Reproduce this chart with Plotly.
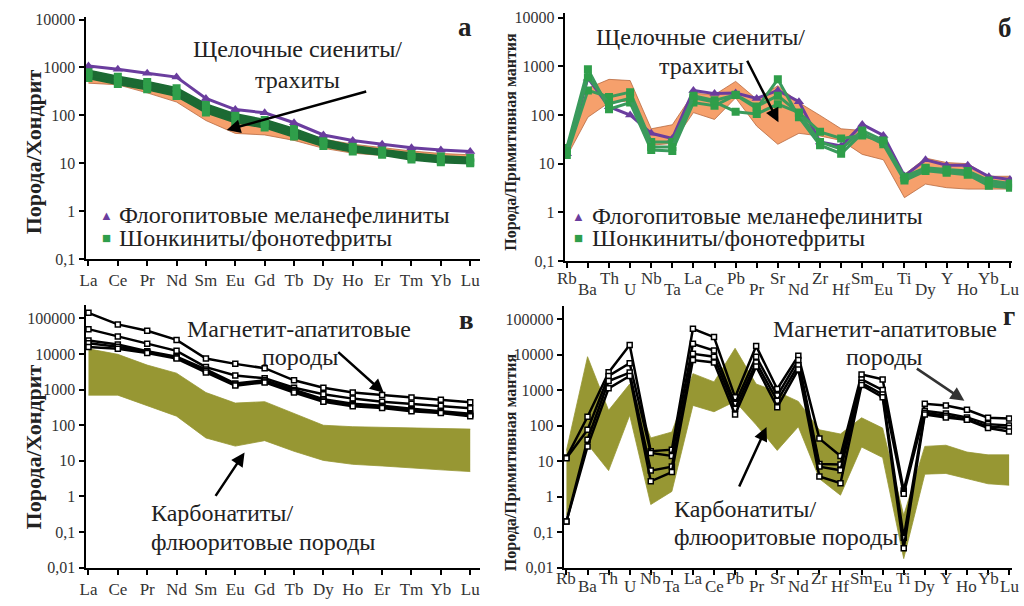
import plotly.graph_objects as go

W, H = 1024, 606

REE = ["La", "Ce", "Pr", "Nd", "Sm", "Eu", "Gd", "Tb", "Dy", "Ho", "Er", "Tm", "Yb", "Lu"]
SPIDER = ["Rb", "Ba", "Th", "U", "Nb", "Ta", "La", "Ce", "Pb", "Pr", "Sr", "Nd",
          "Zr", "Hf", "Sm", "Eu", "Ti", "Dy", "Y", "Ho", "Yb", "Lu"]

# ---------- panel а (REE, chondrite) ----------
a_phlog = [1070, 920, 760, 630, 225, 132, 113, 70, 39, 30, 25, 21, 19, 17.6]
a_shonk_hi = [860, 640, 500, 370, 170, 105, 80, 52, 31, 23, 19, 16, 14, 13]
a_shonk_mid = [690, 515, 405, 300, 139, 87, 66, 42, 26, 19.6, 16.2, 13.2, 11.3, 10.6]
a_shonk_lo = [600, 450, 350, 255, 115, 72, 56, 36, 23, 17.5, 15, 12, 10.5, 10]
a_syen_hi = [820, 600, 480, 340, 160, 98, 82, 52, 32, 25, 21, 18, 16, 15]
a_syen_lo = [470, 435, 295, 190, 78, 42, 39, 30, 20.5, 16.2, 14.5, 12.8, 12, 11.3]

# ---------- panel б (spider, primitive mantle) ----------
b_phlog = [16, 570, 148, 100, 42, 33, 320, 275, 282, 218, 320, 188, 28, 23, 64, 38,
           5.6, 12, 9.3, 9.3, 5.4, 4.7]
b_shonk1 = [21, 870, 132, 180, 19, 18.3, 180, 155, 257, 136, 540, 90, 24, 16, 42, 25,
            4.5, 7.1, 6.5, 5.9, 3.5, 3.2]
b_shonk2 = [15, 320, 235, 295, 28, 28, 225, 185, 117, 105, 167, 112, 45, 33, 38, 28,
            5.4, 8.2, 7.6, 7.1, 4.5, 3.9]
b_shonk3 = [18, 600, 170, 220, 22, 22, 250, 200, 260, 150, 250, 110, 28, 20, 48, 30,
            5.0, 8.0, 7.0, 6.5, 4.0, 3.5]
b_syen_hi = [25, 355, 540, 510, 52, 63, 280, 260, 490, 210, 400, 180, 98, 52, 48, 28,
             6, 13, 10.5, 10, 5.5, 5.5]
b_syen_lo = [14, 90, 180, 195, 24, 26, 112, 81, 225, 59, 25, 42, 37, 30, 15.5, 12,
             2.0, 3.8, 3.2, 3.0, 3.0, 3.0]

# ---------- panel в (REE, chondrite) ----------
v_mag1 = [144000, 68000, 45000, 25000, 7500, 5300, 4000, 1830, 1130, 830, 710, 600, 520, 440]
v_mag2 = [50000, 31000, 19500, 12300, 4300, 2500, 2100, 1130, 740, 560, 460, 400, 355, 300]
v_mag3 = [24000, 18500, 12000, 8400, 3700, 1480, 1830, 980, 540, 400, 355, 290, 248, 210]
v_mag4 = [20000, 16000, 11500, 8000, 3400, 1400, 1700, 900, 500, 370, 330, 270, 235, 195]
v_mag5 = [15700, 14100, 10700, 7500, 3050, 1300, 1600, 830, 460, 340, 306, 248, 222, 180]
v_carb_hi = [14000, 9800, 4900, 2900, 830, 420, 460, 210, 100, 91, 87, 82, 78, 78]
v_carb_lo = [700, 700, 355, 180, 44, 26, 37, 18.6, 10.3, 8, 7.2, 6.5, 5.6, 5]

# ---------- panel г (spider, primitive mantle) ----------
g_mag1 = [12.6, 178, 3150, 18500, 19, 21, 53000, 31000, 630, 17300, 1070, 9200, 43, 14,
          2750, 2000, 1.5, 410, 370, 280, 166, 158]
g_mag2 = [12, 76, 2500, 5700, 17, 14, 20000, 13000, 410, 8700, 700, 7000, 8.3, 8,
          2000, 1000, 1.2, 260, 220, 170, 110, 100]
g_mag3 = [0.2, 40, 1800, 3100, 5.4, 7, 10500, 8700, 300, 6000, 500, 5000, 7, 5.5,
          1600, 750, 0.07, 230, 190, 150, 95, 85]
g_mag4 = [0.2, 26, 1120, 2500, 2.7, 4.9, 7000, 6000, 205, 4600, 330, 3800, 3.7, 2.4,
          1380, 630, 0.035, 205, 170, 145, 85, 68]
g_carb_hi = [20, 8700, 270, 1480, 45, 66, 2900, 1700, 15000, 1480, 900, 480, 76, 58,
             166, 85, 0.3, 26, 28, 18, 15, 15]
g_carb_lo = [0.3, 30, 5.4, 195, 0.6, 1.4, 370, 245, 480, 105, 20, 93, 3.2, 1.1,
             25, 12.6, 0.018, 4.3, 4.5, 3.2, 2.3, 2.1]

TICK_A = [0.1, 1, 10, 100, 1000, 10000]
TICK_A_TXT = ["0,1", "1", "10", "100", "1000", "10000"]
TICK_V = [0.01, 0.1, 1, 10, 100, 1000, 10000, 100000]
TICK_V_TXT = ["0,01", "0,1", "1", "10", "100", "1000", "10000", "100000"]

PURPLE = "#6a3d9e"
GREEN_M = "#2f9e4a"
GREEN_D = "#1c6a33"
GREEN_L = "#3a9a5c"
ORANGE = "#f6a06c"
ORANGE_E = "#b86a40"
OLIVE = "#979733"
FONT = "Liberation Serif"

fig = go.Figure()


def band(x, lo, hi, color, edge, xa, ya):
    fig.add_trace(go.Scatter(x=x, y=lo, mode="lines", line=dict(color=edge, width=0.8),
                             xaxis=xa, yaxis=ya, showlegend=False, hoverinfo="skip"))
    fig.add_trace(go.Scatter(x=x, y=hi, mode="lines", line=dict(color=edge, width=0.8),
                             fill="tonexty", fillcolor=color,
                             xaxis=xa, yaxis=ya, showlegend=False, hoverinfo="skip"))


def line(x, y, xa, ya, color, width, symbol, msize, mcolor, mline=None):
    fig.add_trace(go.Scatter(
        x=x, y=y, mode="lines+markers", xaxis=xa, yaxis=ya, showlegend=False,
        line=dict(color=color, width=width),
        marker=dict(symbol=symbol, size=msize, color=mcolor,
                    line=dict(color=mline or mcolor, width=1.5 if mline else 0))))


# panel а
band(REE, a_syen_lo, a_syen_hi, ORANGE, ORANGE_E, "x", "y")
band(REE, a_shonk_lo, a_shonk_hi, GREEN_D, GREEN_D, "x", "y")
for s in (a_shonk_hi, a_shonk_mid, a_shonk_lo):
    line(REE, s, "x", "y", GREEN_D, 2.5, "square", 8, GREEN_M)
line(REE, a_phlog, "x", "y", PURPLE, 3, "triangle-up", 9, PURPLE)

# panel б
band(SPIDER, b_syen_lo, b_syen_hi, ORANGE, ORANGE_E, "x2", "y2")
line(SPIDER, b_phlog, "x2", "y2", PURPLE, 3, "triangle-up", 9, PURPLE)
for s in (b_shonk1, b_shonk2, b_shonk3):
    line(SPIDER, s, "x2", "y2", GREEN_L, 3, "square", 8, GREEN_M)

# panel в
band(REE, v_carb_lo, v_carb_hi, OLIVE, OLIVE, "x3", "y3")
for s in (v_mag1, v_mag2, v_mag3, v_mag4, v_mag5):
    line(REE, s, "x3", "y3", "black", 2.5, "square", 5, "white", "black")

# panel г
band(SPIDER, g_carb_lo, g_carb_hi, OLIVE, OLIVE, "x4", "y4")
for s in (g_mag1, g_mag2, g_mag3, g_mag4):
    line(SPIDER, s, "x4", "y4", "black", 2.5, "square", 5, "white", "black")


def px_x(x):
    return x / W


def px_y(y):
    return 1 - y / H


axis_common = dict(showline=True, linecolor="black", linewidth=2, ticks="outside",
                   ticklen=5, tickwidth=1.5, tickcolor="black", showgrid=False,
                   zeroline=False, mirror=False)
XTF = dict(size=17, family=FONT, color="#333333")
YTF = dict(size=16, family=FONT, color="#333333")

fig.update_layout(
    width=W, height=H, margin=dict(l=0, r=0, t=0, b=0),
    paper_bgcolor="white", plot_bgcolor="white",
    font=dict(family=FONT, color="#222222"),
    showlegend=False,
    xaxis=dict(axis_common, domain=[px_x(80), px_x(477)], anchor="y",
               type="category", range=[-0.1, 13.34], tickfont=XTF),
    yaxis=dict(axis_common, domain=[px_y(260), px_y(12)], anchor="x",
               type="log", range=[-1, 4.06], tickvals=TICK_A, ticktext=TICK_A_TXT,
               tickfont=YTF),
    xaxis2=dict(axis_common, domain=[px_x(562), px_x(1012)], anchor="y2",
                type="category", range=[-0.1, 21.1], showticklabels=False),
    yaxis2=dict(axis_common, domain=[px_y(262), px_y(8)], anchor="x2",
                type="log", range=[-1, 4.1], tickvals=TICK_A, ticktext=TICK_A_TXT,
                tickfont=YTF),
    xaxis3=dict(axis_common, domain=[px_x(80), px_x(477)], anchor="y3",
                type="category", range=[-0.1, 13.34], tickfont=XTF),
    yaxis3=dict(axis_common, domain=[px_y(576), px_y(307)], anchor="x3",
                type="log", range=[-2, 5.38], tickvals=TICK_V, ticktext=TICK_V_TXT,
                tickfont=YTF),
    xaxis4=dict(axis_common, domain=[px_x(561), px_x(1012)], anchor="y4",
                type="category", range=[-0.13, 21.14], showticklabels=False),
    yaxis4=dict(axis_common, domain=[px_y(576), px_y(308)], anchor="x4",
                type="log", range=[-2, 5.37], tickvals=TICK_V, ticktext=TICK_V_TXT,
                tickfont=YTF),
)

ann = []


def text(x, y, t, size=24, xanchor="center", angle=0, color="#222222"):
    ann.append(dict(x=px_x(x), y=px_y(y), xref="paper", yref="paper", text=t,
                    showarrow=False, xanchor=xanchor, yanchor="middle", textangle=angle,
                    font=dict(family=FONT, size=size, color=color)))


def arrow(x0, y0, x1, y1, color="black", width=2.5):
    ann.append(dict(x=px_x(x1), y=px_y(y1), xref="paper", yref="paper",
                    ax=x0 - x1, ay=y0 - y1, axref="pixel", ayref="pixel",
                    text="", showarrow=True, arrowhead=2, arrowsize=1.1,
                    arrowwidth=width, arrowcolor=color))


# spider tick labels, staggered
for axn, yhi, ylo in (("x2", 280, 291), ("x4", 587, 595)):
    for i, el in enumerate(SPIDER):
        ann.append(dict(x=el, y=px_y(yhi if i % 2 == 0 else ylo), xref=axn, yref="paper",
                        text=el, showarrow=False, xanchor="center", yanchor="middle",
                        font=dict(family=FONT, size=17, color="#333333")))

# y titles
text(28, 150, "<b>Порода/Хондрит</b>", size=22, angle=-90)
text(28, 452, "<b>Порода/Хондрит</b>", size=22, angle=-90)
text(508, 140, "<b>Порода/Примитивная мантия</b>", size=16, angle=-90)
text(508, 468, "<b>Порода/Примитивная мантия</b>", size=16, angle=-90)

# panel letters
text(462, 23, "<b>а</b>", size=27)
text(1005, 24, "<b>б</b>", size=27)
text(463, 322, "<b>в</b>", size=27)
text(1009, 318, "<b>г</b>", size=27)

# panel а texts
text(293, 45, "Щелочные сиениты/")
text(293, 77, "трахиты")
arrow(363, 89, 222, 128)
text(101, 215, "▲", size=13, color=PURPLE)
text(112, 215, "Флогопитовые меланефелиниты", xanchor="left", size=24)
text(101, 238, "■", size=15, color=GREEN_M)
text(112, 238, "Шонкиниты/фонотефриты", xanchor="left", size=24)

# panel б texts
text(699, 33, "Щелочные сиениты/")
text(700, 62, "трахиты")
arrow(745, 57, 777, 120)
text(576, 216, "▲", size=13, color=PURPLE)
text(587, 216, "Флогопитовые меланефелиниты", xanchor="left", size=24)
text(576, 238, "■", size=15, color=GREEN_M)
text(587, 238, "Шонкиниты/фонотефриты", xanchor="left", size=24)

# panel в texts
text(295, 332, "Магнетит-апатитовые")
text(296, 360, "породы")
arrow(333, 355, 380, 397)
text(144, 520, "Карбонатиты/", xanchor="left")
text(144, 550, "флюоритовые породы", xanchor="left")
arrow(210, 503, 240, 458)

# panel г texts
text(884, 332, "Магнетит-апатитовые")
text(884, 360, "породы")
arrow(915, 372, 964, 405, color="#333333")
text(670, 516, "Карбонатиты/", xanchor="left")
text(670, 545, "флюоритовые породы", xanchor="left")
arrow(737, 493, 765, 432)

fig.update_layout(annotations=ann)
fig.write_html("out.html")
